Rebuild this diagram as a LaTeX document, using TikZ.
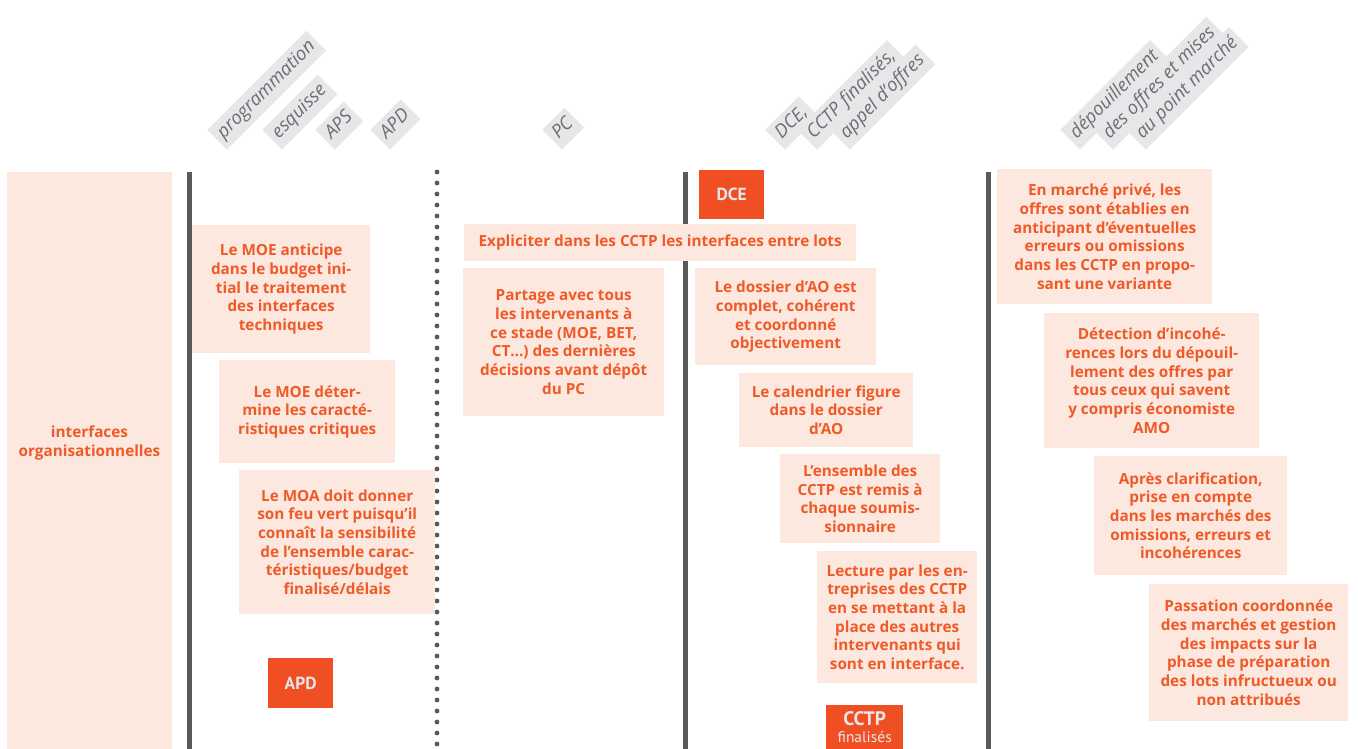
\documentclass[tikz,border=0pt]{standalone}
\usepackage{fontspec}
\setmainfont{Open Sans}
\newfontfamily\badgefont{PT Sans}
\usetikzlibrary{positioning}
\definecolor{peach}{HTML}{FCE8DE}
\definecolor{rouille}{HTML}{F05A28}
\definecolor{badgeorange}{HTML}{F04E23}
\definecolor{ardoise}{HTML}{58595B}
\definecolor{gristag}{HTML}{E6E7E8}
\definecolor{textetag}{HTML}{6D6E71}
\tikzset{
  note/.style={rectangle, fill=peach, text=rouille, font=\fontsize{15.3}{18.7}\selectfont\bfseries, align=center, anchor=north west, inner sep=0pt},
  badge/.style={rectangle, fill=badgeorange, text=gristag, font=\badgefont\fontsize{17.5}{17.5}\selectfont\bfseries, align=center, anchor=north west, inner sep=0pt},
  tag/.style={rectangle, fill=gristag, text=textetag, font=\fontsize{18.5}{18.5}\selectfont\itshape, rotate=45, anchor=south west, minimum height=28pt, inner xsep=5pt, text height=13pt, text depth=4pt},
  vline/.style={line width=5pt, ardoise},
}

\begin{document}
\begin{tikzpicture}[x=1pt, y=-1pt]
  \useasboundingbox (0,0) rectangle (1358,749);

  % --- Phases (etiquettes inclinees) ---
  \node[tag] (tprog) at (227,150) {programmation};
  \node[tag] (tesq) at (282,150) {esquisse};
  \node[tag] (taps) at (335,150) {APS};
  \node[tag] (tapd) at (390,150) {APD};
  \node[tag] (tpc) at (562,150) {PC};
  \node[tag] (tdce) at (785,150) {DCE,};
  \node[tag] (tcctp) at (817,150) {CCTP finalisés,};
  \node[tag] (tao) at (850,150) {appel d’offres};
  \node[tag] (tdep) at (1080,150) {dépouillement};
  \node[tag] (toff) at (1113,150) {des offres et mises};
  \node[tag] (tpoint) at (1146,150) {au point marché};

  % --- Bande de gauche ---
  \node[note, minimum width=165pt, minimum height=577pt] (bande) at (7,172) {};
  \node[note, anchor=center] (bandetxt) at (89.5,443) {interfaces\\organisationnelles};

  % --- Jalons ---
  \coordinate (j1h) at (189,172);
  \coordinate (j1b) at (189,749);
  \coordinate (j2h) at (685,172);
  \coordinate (j2b) at (685,749);
  \coordinate (j3h) at (988,172);
  \coordinate (j3b) at (988,749);
  \draw[vline] (j1h) -- (j1b);
  \draw[vline] (j2h) -- (j2b);
  \draw[vline] (j3h) -- (j3b);
  \foreach \y in {172,183,...,749}
    \fill[ardoise] (437,\y) circle (2.4pt);

  % --- Avant PC ---
  \node[note, minimum width=178pt, minimum height=128pt] (moe1) at (192,225)
    {Le MOE anticipe\\dans le budget ini-\\tial le traitement\\des interfaces\\techniques};
  \node[note, minimum width=176pt, minimum height=103pt] (moe2) at (219,360)
    {Le MOE déter-\\mine les caracté-\\ristiques critiques};
  \node[note, minimum width=196pt, minimum height=144pt] (moa) at (239,470)
    {Le MOA doit donner\\son feu vert puisqu’il\\connaît la sensibilité\\de l’ensemble carac-\\téristiques/budget\\finalisé/délais};
  \node[badge, minimum width=65pt, minimum height=50pt] (apd) at (268,658) {APD};

  % --- PC et DCE ---
  \node[note, minimum width=392pt, minimum height=37pt] (expl) at (464,224)
    {Expliciter dans les CCTP les interfaces entre lots};
  \node[note, minimum width=201pt, minimum height=148pt] (partage) at (463,268)
    {Partage avec tous\\les intervenants à\\ce stade (MOE, BET,\\CT…) des dernières\\décisions avant dépôt\\du PC};
  \node[badge, minimum width=65pt, minimum height=49pt] (dce) at (699,170) {DCE};
  \node[note, minimum width=181pt, minimum height=97pt] (dossier) at (695,268)
    {Le dossier d’AO est\\complet, cohérent\\et coordonné\\objectivement};
  \node[note, minimum width=174pt, minimum height=74pt] (calend) at (739,373)
    {Le calendrier figure\\dans le dossier\\d’AO};
  \node[note, minimum width=160pt, minimum height=89pt] (ensemble) at (780,454)
    {L’ensemble des\\CCTP est remis à\\chaque soumis-\\sionnaire};
  \node[note, minimum width=160pt, minimum height=132pt] (lecture) at (817,551)
    {Lecture par les en-\\treprises des CCTP\\en se mettant à la\\place des autres\\intervenants qui\\sont en interface.};
  \node[badge, minimum width=77pt, minimum height=44pt, font=\badgefont\fontsize{19.5}{19.5}\selectfont\bfseries] (cctp) at (826,705)
    {CCTP\\[-3pt]{\fontsize{15.5}{15.5}\selectfont\mdseries finalisés}};

  % --- Depouillement ---
  \node[note, minimum width=215pt, minimum height=135pt] (prive) at (997,169)
    {En marché privé, les\\offres sont établies en\\anticipant d’éventuelles\\erreurs ou omissions\\dans les CCTP en propo-\\sant une variante};
  \node[note, minimum width=215pt, minimum height=135pt] (detect) at (1044,313)
    {Détection d’incohé-\\rences lors du dépouil-\\lement des offres par\\tous ceux qui savent\\y compris économiste\\AMO};
  \node[note, minimum width=193pt, minimum height=119pt] (clarif) at (1094,456)
    {Après clarification,\\prise en compte\\dans les marchés des\\omissions, erreurs et\\incohérences};
  \node[note, minimum width=199pt, minimum height=137pt] (passation) at (1149,584)
    {Passation coordonnée\\des marchés et gestion\\des impacts sur la\\phase de préparation\\des lots infructueux ou\\non attribués};
\end{tikzpicture}
\end{document}
